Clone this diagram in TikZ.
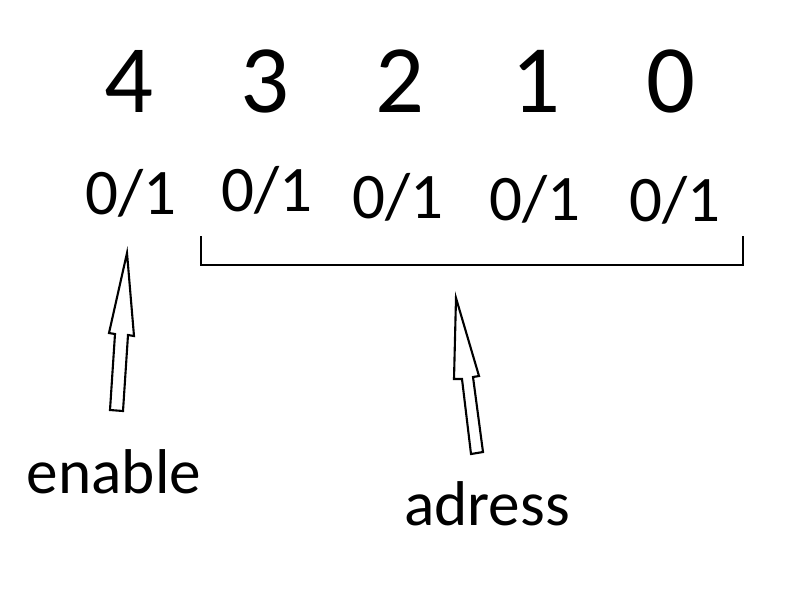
\documentclass[tikz,border=0pt]{standalone}
\usepackage{fontspec}
\setmainfont{Carlito}

\begin{document}
\begin{tikzpicture}[x=0.02cm,y=-0.02cm,
    bitnum/.style={anchor=base,inner sep=0pt,font=\fontsize{55}{55}\selectfont},
    bitval/.style={anchor=base,inner sep=0pt,font=\fontsize{37}{37}\selectfont},
    caption/.style={anchor=base,inner sep=0pt,font=\fontsize{36}{36}\selectfont},
    blockarrow/.style={draw=black,line width=1.2pt,fill=white,line join=miter}]
    \useasboundingbox (0,0) rectangle (800,600);
    % bit numbers
    \node[bitnum] (n4) at (129,112) {4};
    \node[bitnum] (n3) at (265,112) {3};
    \node[bitnum] (n2) at (400,112) {2};
    \node[bitnum] (n1) at (536,112) {1};
    \node[bitnum] (n0) at (671,112) {0};
    % bit values
    \node[bitval] (v4) at (131,214) {0/1};
    \node[bitval] (v3) at (267,211) {0/1};
    \node[bitval] (v2) at (398,218) {0/1};
    \node[bitval] (v1) at (535,220) {0/1};
    \node[bitval] (v0) at (675,221) {0/1};
    % bracket under the address bits
    \coordinate (bl) at (201,236);
    \coordinate (br) at (743,236);
    \draw[line width=1.1pt] (bl) -- (201,265) -- (743,265) -- (br);
    % labels
    \node[caption] (enable) at (114,493) {enable};
    \node[caption] (adress) at (487,525) {adress};
    % arrows
    \draw[blockarrow] (127,253) -- (134,336) -- (128,335) -- (123,411)
        -- (110,410) -- (115,334) -- (109,333) -- cycle;
    \draw[blockarrow] (456,298) -- (479,376) -- (473,377) -- (483,452)
        -- (471,454) -- (462,379) -- (454,379) -- cycle;
\end{tikzpicture}
\end{document}
